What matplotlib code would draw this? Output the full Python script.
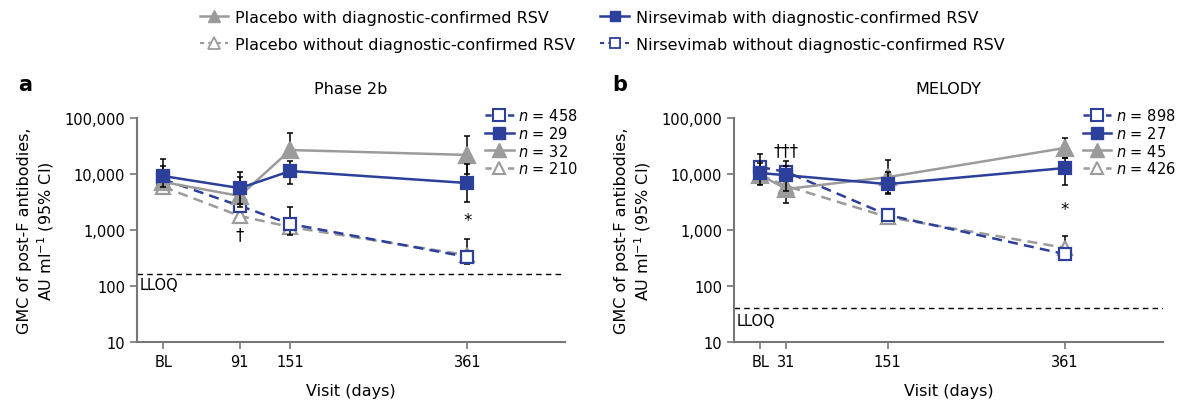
import numpy as np
import matplotlib
matplotlib.use('Agg')
import matplotlib.pyplot as plt
from matplotlib.lines import Line2D

plt.rcParams['font.family'] = ['DejaVu Sans']

# ==========================================
# DATOS
# ==========================================
azul = '#2b3f9b'
gris = '#9b9b9c'

# Panel a: Phase 2b
dias_a = [0, 91, 151, 361]
ticks_a = ['BL', '91', '151', '361']
a_nir_con = [9200, 5600, 11300, 6900]
a_nir_con_lo = [5800, 2900, 6600, 3150]
a_nir_con_hi = [18500, 10800, 17000, 15000]
a_pla_con = [7200, 4050, 26800, 21900]
a_pla_con_lo = [5600, 2600, 20000, 10000]
a_pla_con_hi = [14000, 8900, 54000, 47700]
a_nir_sin = [8000, 2700, 1280, 330]
a_nir_sin_lo = [7400, 2400, 820, 285]
a_nir_sin_hi = [8600, 3000, 2600, 390]
a_pla_sin = [5900, 1780, 1130, 356]
a_pla_sin_lo = [5500, 1600, 870, 250]
a_pla_sin_hi = [6300, 2000, 1500, 690]
n_a = ['458', '29', '32', '210']
lloq_a = 164

# Panel b: MELODY
dias_b = [0, 31, 151, 361]
ticks_b = ['BL', '31', '151', '361']
b_nir_con = [10400, 9500, 6600, 12800]
b_nir_con_lo = [6400, 5000, 4400, 6400]
b_nir_con_hi = [16000, 14000, 11000, 19000]
b_pla_con = [9600, 5400, 8800, 29200]
b_pla_con_lo = [6600, 3000, 4500, 19000]
b_pla_con_hi = [22600, 9500, 17700, 44000]
b_nir_sin = [13300, 10900, 1850, 370]
b_nir_sin_lo = [12000, 9800, 1600, 330]
b_nir_sin_hi = [14800, 17000, 2100, 410]
b_pla_sin = [9600, 6100, 1700, 480]
b_pla_sin_lo = [8800, 5600, 1400, 390]
b_pla_sin_hi = [10500, 6700, 2000, 780]
n_b = ['898', '27', '45', '426']
lloq_b = 40.5

yticks = [10, 100, 1000, 10000, 100000]
ylabels = ['10', '100', '1,000', '10,000', '100,000']


def serie(ax, x, y, lo, hi, color, ls, mfc, marker, ms, z):
    y = np.array(y)
    err = [y - np.array(lo), np.array(hi) - y]
    ax.errorbar(x, y, yerr=err, fmt='none', ecolor='black', elinewidth=1.1,
                capsize=2.3, capthick=1.1, zorder=z - 0.5)
    ax.plot(x, y, color=color, ls=ls, lw=1.8, marker=marker, ms=ms,
            mfc=mfc, mec=color, mew=1.6, zorder=z, dashes=(4, 2.5) if ls == '--' else (None, None))


def panel(ax, dias, ticks, datos, n, lloq, titulo, lloq_y):
    (nc, nclo, nchi, pc, pclo, pchi, ns, nslo, nshi, ps, pslo, pshi) = datos
    serie(ax, dias, ps, pslo, pshi, gris, '--', 'white', '^', 10, 3)
    serie(ax, dias, ns, nslo, nshi, azul, '--', 'white', 's', 9, 4)
    serie(ax, dias, pc, pclo, pchi, gris, '-', gris, '^', 11, 5)
    serie(ax, dias, nc, nclo, nchi, azul, '-', azul, 's', 9, 6)
    ax.axhline(lloq, color='black', ls=(0, (4, 3)), lw=1)
    ax.text(-28, lloq_y, 'LLOQ', fontsize=10.5, va='center', ha='left')
    ax.set_yscale('log')
    ax.set_ylim(10, 100000)
    ax.set_xlim(-31, 477)
    ax.set_yticks(yticks)
    ax.set_yticklabels(ylabels)
    ax.minorticks_off()
    ax.set_xticks(dias)
    ax.set_xticklabels(ticks)
    ax.tick_params(labelsize=10.5, length=5, width=1.2, color='#777777')
    for s in ['top', 'right']:
        ax.spines[s].set_visible(False)
    for s in ['left', 'bottom']:
        ax.spines[s].set_color('#777777')
        ax.spines[s].set_linewidth(1.5)
    ax.set_xlabel('Visit (days)', fontsize=11.5, labelpad=10)
    ax.set_ylabel('GMC of post-F antibodies,\nAU ml$^{-1}$ (95% CI)', fontsize=11.5, labelpad=6)
    ax.set_title(titulo, fontsize=11.5, pad=18)
    h = [Line2D([], [], color=azul, ls='--', dashes=(2.5, 2), marker='s', mfc='white', mec=azul, ms=8, lw=1.8, mew=1.5),
         Line2D([], [], color=azul, ls='-', marker='s', mfc=azul, mec=azul, ms=8, lw=1.8),
         Line2D([], [], color=gris, ls='-', marker='^', mfc=gris, mec=gris, ms=10, lw=1.8),
         Line2D([], [], color=gris, ls='--', dashes=(2.5, 2), marker='^', mfc='white', mec=gris, ms=9, lw=1.8, mew=1.5)]
    etiquetas = ['$n$ = ' + v for v in n]
    ax.legend(h, etiquetas, loc='upper left', bbox_to_anchor=(0.80, 1.075), frameon=False,
              fontsize=10.5, handlelength=1.95, handletextpad=0.3, labelspacing=0.12, borderaxespad=0)


fig = plt.figure(figsize=(11.79, 4.02), dpi=100)
ax_a = fig.add_axes([137 / 1179, 1 - 343 / 402, (565 - 137) / 1179, (343 - 119) / 402])
ax_b = fig.add_axes([734 / 1179, 1 - 343 / 402, (1163 - 734) / 1179, (343 - 119) / 402])

panel(ax_a, dias_a, ticks_a,
      (a_nir_con, a_nir_con_lo, a_nir_con_hi, a_pla_con, a_pla_con_lo, a_pla_con_hi,
       a_nir_sin, a_nir_sin_lo, a_nir_sin_hi, a_pla_sin, a_pla_sin_lo, a_pla_sin_hi),
      n_a, lloq_a, 'Phase 2b', 105)
panel(ax_b, dias_b, ticks_b,
      (b_nir_con, b_nir_con_lo, b_nir_con_hi, b_pla_con, b_pla_con_lo, b_pla_con_hi,
       b_nir_sin, b_nir_sin_lo, b_nir_sin_hi, b_pla_sin, b_pla_sin_lo, b_pla_sin_hi),
      n_b, lloq_b, 'MELODY', 24)

# anotaciones
ax_a.text(91, 850, '†', ha='center', va='center', fontsize=12)
ax_a.text(361, 1500, '*', ha='center', va='center', fontsize=12)
ax_b.text(31, 27000, '†††', ha='center', va='center', fontsize=12)
ax_b.text(361, 2400, '*', ha='center', va='center', fontsize=12)

fig.text(18 / 1179, 1 - 85 / 402, 'a', fontsize=15, fontweight='bold', va='center')
fig.text(612 / 1179, 1 - 85 / 402, 'b', fontsize=15, fontweight='bold', va='center')

# leyenda superior
top_h = [Line2D([], [], color=gris, ls='-', marker='^', mfc=gris, mec=gris, ms=9, lw=1.8),
         Line2D([], [], color=gris, ls='--', dashes=(2, 2), marker='^', mfc='white', mec=gris, ms=8, lw=1.5, mew=1.3),
         Line2D([], [], color=azul, ls='-', marker='s', mfc=azul, mec=azul, ms=7, lw=1.8),
         Line2D([], [], color=azul, ls='--', dashes=(2, 2), marker='s', mfc='white', mec=azul, ms=7, lw=1.5, mew=1.3)]
top_l = ['Placebo with diagnostic-confirmed RSV', 'Placebo without diagnostic-confirmed RSV',
         'Nirsevimab with diagnostic-confirmed RSV', 'Nirsevimab without diagnostic-confirmed RSV']
fig.legend(top_h, top_l, ncol=2, loc='upper left', bbox_to_anchor=(190 / 1179, 0.997), frameon=False,
           fontsize=11.5, handlelength=1.8, handletextpad=0.4, labelspacing=0.75, columnspacing=1.6,
           borderaxespad=0.2)

fig.savefig('out.png', dpi=100)
